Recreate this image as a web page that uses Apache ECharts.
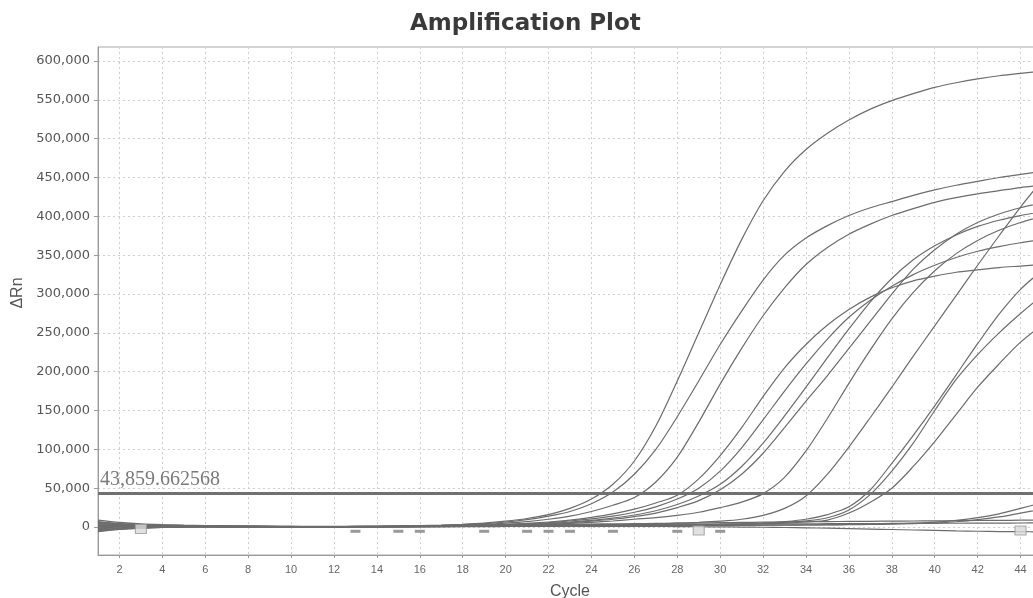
<!DOCTYPE html>
<html><head><meta charset="utf-8">
<script src="https://cdn.jsdelivr.net/npm/echarts@6/dist/echarts.min.js"></script>
<style>html,body{margin:0;padding:0;background:#fff}#c{width:1033px;height:598px}</style>
</head><body><div id="c"></div>
<script>
// ---- data (ΔRn values in thousands) ----
const cycles = [1,2,3,4,5,6,7,8,9,10,11,12,13,14,15,16,17,18,19,20,21,22,23,24,25,26,27,28,29,30,31,32,33,34,35,36,37,38,39,40,41,42,43,44,45];
const xTicks = [2,4,6,8,10,12,14,16,18,20,22,24,26,28,30,32,34,36,38,40,42,44];
const yTicks = [0,50000,100000,150000,200000,250000,300000,350000,400000,450000,500000,550000,600000];
const threshold = 43859.662568;

const C1 = [6,4,3,2.5,2,1.5,1.2,1,0.8,0.6, 0.5,0.6,0.8,1,1.3,1.8,2.5,3.5,5,7.5, 11,16,24,36,55,85,130,188,250,312, 370,420,458,486,507,524,538,549,558,566, 572,577,581,584,587];
const C2 = [4,3,2.5,2,1.8,1.5,1.2,1,0.8,0.6, 0.5,0.5,0.7,1,1.3,1.7,2.3,3.2,4.5,6.5, 9.5,14,20,30,45,68,100,142,188,235, 278,318,350,372,388,401,411,419,427,434, 440,445,450,454,458];
const C3 = [2,1.5,1.5,1.5,1.3,1.1,1,0.8,0.6,0.5, 0.4,0.4,0.5,0.7,1,1.3,1.8,2.5,3.5,5, 7,10,14,20,28,38,58,90,135,184, 230,272,308,338,360,377,390,401,410,418, 424,429,433,437,440];
const M1 = [0,0.5,1,1.2,1.2,1,0.8,0.6,0.5,0.4, 0.3,0.3,0.4,0.6,0.8,1,1.4,1.9,2.6,3.5, 4.8,6.5,9,12.5,17,23,31,41,62,92, 128,168,205,235,260,280,296,308,317,323, 328,331,334,336,338];
const M2 = [-2,-1,0,0.5,0.6,0.6,0.5,0.4,0.3,0.2, 0.2,0.2,0.3,0.5,0.7,1,1.3,1.8,2.4,3.2, 4.3,5.8,7.8,10.5,14,19,26,36,50,72, 102,138,175,210,242,270,292,310,325,337, 347,355,361,366,370];
const M3 = [-4,-2,-1,0,0.4,0.5,0.4,0.3,0.2,0.1, 0.1,0.2,0.3,0.4,0.6,0.8,1.1,1.5,2,2.7, 3.6,4.8,6.4,8.5,11.5,15.5,21,29,40,55, 78,108,143,180,218,255,290,320,344,362, 376,387,395,401,406];
const M4 = [-6,-3,-1.5,-0.5,0,0.2,0.2,0.1,0,0, 0,0.1,0.2,0.3,0.5,0.7,1,1.3,1.8,2.4, 3.2,4.3,5.7,7.6,10,13.5,18,25,34,48, 68,95,128,162,195,230,265,300,332,357, 377,392,403,411,417];
const M5 = [1,1,0.8,0.7,0.6,0.5,0.4,0.3,0.2,0.2, 0.2,0.2,0.2,0.3,0.4,0.5,0.6,0.8,1,1.3, 1.6,1.9,2.2,2.5,3,3.5,4,5,6,7.5, 10,15,24,40,68,103,141,180,220,259, 298,337,375,412,446];
const M6 = [3,2,1.5,1.2,1,0.8,0.6,0.5,0.4,0.3, 0.3,0.3,0.4,0.5,0.6,0.8,1,1.3,1.7,2.2, 2.8,3.6,4.6,6,7.8,10,12,15,19,25, 32,43,64,98,140,185,228,268,302,330, 352,369,382,392,400];
const L1 = [-3,-2,-1,-0.5,0,0.2,0.3,0.3,0.2,0.2, 0.2,0.3,0.4,0.5,0.6,0.7,0.8,0.9,1,1.1, 1.2,1.3,1.4,1.6,1.8,2,2.3,2.6,3,3.5, 4.2,5.2,7,10,16,26,48,82,118,156, 196,236,274,306,330];
const L2 = [1,0.8,0.6,0.5,0.4,0.3,0.3,0.2,0.2,0.2, 0.2,0.2,0.3,0.4,0.5,0.6,0.7,0.8,0.9,1, 1.1,1.2,1.3,1.5,1.7,1.9,2.2,2.5,2.9,3.4, 4,4.8,6,8,12,22,42,72,108,150, 190,222,250,275,298];
const L3 = [2,1.5,1,0.8,0.6,0.5,0.4,0.3,0.3,0.2, 0.2,0.2,0.2,0.3,0.4,0.5,0.6,0.7,0.8,0.9, 1,1.1,1.2,1.3,1.5,1.7,1.9,2.2,2.5,2.9, 3.4,4,5,6.5,9,18,32,50,78,110, 145,180,210,238,260];
const S1 = [7,4.5,3,2,1.5,1.2,1,0.8,0.7,0.6, 0.5,0.5,0.6,0.7,0.8,0.9,1,1.1,1.2,1.3, 1.4,1.5,1.6,1.7,1.8,1.9,2,2.1,2.2,2.3, 2.4,2.5,2.6,2.8,3,3.3,3.7,4.2,5,6.2, 8.5,12,17,24,31];
const S2 = [-1,0,0.5,0.8,0.8,0.7,0.6,0.5,0.4,0.4, 0.3,0.3,0.4,0.5,0.6,0.7,0.8,0.9,1,1.1, 1.2,1.3,1.4,1.5,1.6,1.7,1.8,1.9,2,2.1, 2.2,2.3,2.4,2.6,2.8,3,3.3,3.7,4.3,5.2, 6.8,9.5,13,18,23];
const F1 = [9,6,4,3,2.4,2,1.7,1.5,1.3,1.1, 1,1,1.1,1.2,1.4,1.6,1.8,2,2.3,2.6, 2.9,3.2,3.5,3.8,4.1,4.4,4.7,5,5.3,5.6, 5.9,6.2,6.5,6.8,7,7.2,7.4,7.6,7.8,8, 8.2,8.4,8.6,8.8,9];
const F2 = [-5,-3,-1.5,-0.5,0,0.2,0.2,0.1,0,0, -0.1,-0.1,0,0.1,0.2,0.3,0.4,0.5,0.6,0.7, 0.8,0.9,1,1,1,0.9,0.8,0.6,0.4,0.2, 0,-0.3,-0.6,-1,-1.5,-2,-2.6,-3.2,-3.8,-4.4, -5,-5.4,-5.8,-6,-6.2];
const F3 = [5,3,2,1.5,1.2,1,0.8,0.6,0.5,0.4, 0.3,0.3,0.4,0.5,0.7,0.9,1.1,1.3,1.6,1.9, 2.2,2.5,2.8,3,3.2,3.4,3.5,3.6,3.7,3.8, 3.9,4,4.1,4.2,4.3,4.4,4.5,4.6,4.7,4.8, 4.9,5,5.1,5.2,5.3];

// baseline start/end markers
const dashCycles = [13,15,16,19,21,22,23,25,28,30];
const dashValues = [-5.5,-5.5,-5.5,-5.5,-5.5,-5.5,-5.5,-5.5,-5.5,-5.5];
const boxCycles = [3,29,44];
const boxValues = [-2.5,-4.5,-4.5];

const curves = [F1,F2,F3,S1,S2,L3,L2,L1,M5,M6,M4,M3,M2,M1,C3,C2,C1];

// ---- chart ----
const K = 1000;
const series = curves.map(function (arr, idx) {
  const s = {
    type: 'line',
    data: cycles.map(function (c, i) { return [c, arr[i] * K]; }),
    showSymbol: false, smooth: 0.3, silent: true,
    lineStyle: { color: '#6c6c6c', width: 1.2 },
    z: 3
  };
  if (idx === 0) {
    s.markLine = {
      symbol: 'none', silent: true, animation: false,
      lineStyle: { color: '#707070', width: 3, type: 'solid' },
      label: {
        show: true, position: 'insideStartTop', distance: [2, 3],
        formatter: threshold.toLocaleString('en-US', { maximumFractionDigits: 6 }),
        fontFamily: 'Liberation Serif', fontSize: 20, color: '#7a7a7a'
      },
      data: [{ yAxis: threshold }]
    };
  }
  return s;
});
series.push({
  type: 'scatter', silent: true, symbol: 'rect', symbolSize: [10, 3],
  itemStyle: { color: '#808080' }, z: 4,
  data: dashCycles.map(function (c, i) { return [c, dashValues[i] * K]; })
});
series.push({
  type: 'scatter', silent: true, symbol: 'rect', symbolSize: [11, 9],
  itemStyle: { color: '#d9d9d9', borderColor: '#9a9a9a', borderWidth: 1 }, z: 4,
  data: boxCycles.map(function (c, i) { return [c, boxValues[i] * K]; })
});

const chart = echarts.init(document.getElementById('c'), null, { renderer: 'canvas' });
chart.setOption({
  animation: false,
  backgroundColor: '#ffffff',
  title: {
    text: 'Amplification Plot', left: 405, top: 8,
    textStyle: { fontFamily: 'DejaVu Sans', fontWeight: 'bold', fontSize: 23, color: '#3a3a3a' }
  },
  grid: { left: 98, top: 47, width: 944, height: 508, outerBoundsMode: 'none', containLabel: false, show: true, borderColor: '#a8a8a8', borderWidth: 1, backgroundColor: 'transparent' },
  xAxis: {
    type: 'value', min: 1, max: 45,
    name: 'Cycle', nameLocation: 'middle', nameGap: 29,
    nameTextStyle: { fontFamily: 'Liberation Sans', fontSize: 16, color: '#555' },
    axisLine: { show: true, onZero: false, lineStyle: { color: '#9a9a9a' } },
    axisTick: { show: true, customValues: xTicks, length: 3, lineStyle: { color: '#9a9a9a' } },
    axisLabel: { customValues: xTicks, fontFamily: 'Liberation Sans', fontSize: 11, color: '#666', margin: 9 },
    splitLine: { show: true, lineStyle: { color: '#cfcfcf', type: [2, 3] } }
  },
  yAxis: {
    type: 'value', min: -36000, max: 618000,
    name: 'ΔRn', nameLocation: 'middle', nameGap: 63, nameRotate: 90,
    nameTextStyle: { fontFamily: 'Liberation Sans', fontSize: 16, color: '#555', padding: [0, 0, 0, 16] },
    axisLine: { show: true, onZero: false, lineStyle: { color: '#9a9a9a' } },
    axisTick: { show: true, customValues: yTicks, length: 4, lineStyle: { color: '#9a9a9a' } },
    axisLabel: {
      customValues: yTicks, fontFamily: 'DejaVu Sans', fontSize: 13, color: '#555', margin: 8,
      formatter: function (v) { return v.toLocaleString('en-US'); }
    },
    splitLine: { show: true, lineStyle: { color: '#cfcfcf', type: [2, 3] } }
  },
  series: series
});
</script>
</body></html>
